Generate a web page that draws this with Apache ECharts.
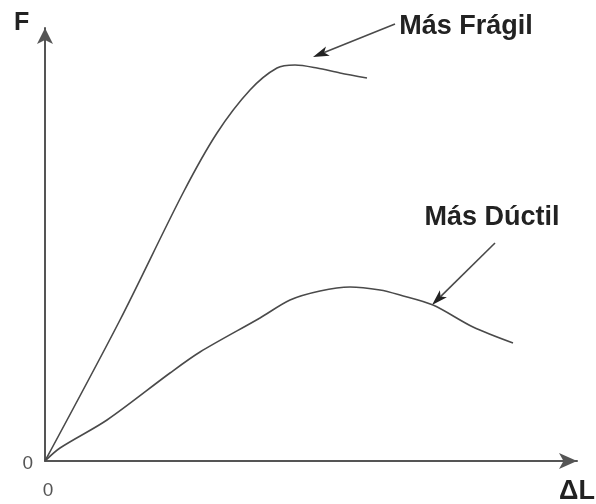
<!DOCTYPE html>
<html>
<head>
<meta charset="utf-8">
<script src="https://cdn.jsdelivr.net/npm/echarts@6/dist/echarts.min.js"></script>
<style>html,body{margin:0;padding:0;background:#fff}#c{width:596px;height:504px}</style>
</head>
<body>
<div id="c"></div>
<script>
// Curve values (ΔL, F in arbitrary units)
const fragilX = [0, 75, 138, 172, 205, 232, 250, 272, 295, 322];
const fragilY = [0, 141, 268, 328, 371, 393, 396, 393, 388, 383];
const ductilX = [0, 15, 62, 125, 155, 215, 245, 275, 305, 335, 355, 388, 428, 468];
const ductilY = [0, 13, 41, 88, 109, 143, 161, 170, 174, 171, 166, 156, 134, 118];
// Annotation arrows: [start, tip] in data units
const fragilArrow = [[350, 437], [268, 404]];
const ductilArrow = [[450, 218], [387, 156]];
const tickLabels = [0];
const labelFragil = 'Más Frágil';
const labelDuctil = 'Más Dúctil';
const nameY = 'F';
const nameX = 'ΔL';

const zip = (xs, ys) => xs.map((x, i) => [x, ys[i]]);
const lineColor = '#4a4a4a';
const axisColor = '#555';
const textFont = 'bold 27px "Liberation Sans"';

const chart = echarts.init(document.getElementById('c'));
chart.setOption({
  animation: false,
  backgroundColor: '#fff',
  grid: {left: 45, right: 19, top: 28, bottom: 43, containLabel: false},
  xAxis: {
    type: 'value', min: 0, max: 532,
    splitLine: {show: false},
    axisTick: {show: false},
    axisLine: {show: true, onZero: false, symbol: ['none', 'arrow'], symbolSize: [12, 18],
      lineStyle: {color: axisColor, width: 2}},
    axisLabel: {customValues: tickLabels, margin: 20, fontSize: 19, color: '#555',
      fontFamily: 'Liberation Sans', padding: [0, 0, 0, 6]}
  },
  yAxis: {
    type: 'value', min: 0, max: 433,
    splitLine: {show: false},
    axisTick: {show: false},
    axisLine: {show: true, onZero: false, symbol: ['none', 'arrow'], symbolSize: [12, 16],
      lineStyle: {color: axisColor, width: 2}},
    axisLabel: {customValues: tickLabels, margin: 12, fontSize: 19, color: '#555',
      fontFamily: 'Liberation Sans', verticalAlign: 'top', lineHeight: 6}
  },
  series: [
    {
      type: 'line', name: labelFragil, data: zip(fragilX, fragilY),
      smooth: 0.3, showSymbol: false, symbol: 'none', clip: false,
      lineStyle: {color: lineColor, width: 1.6}
    },
    {
      type: 'line', name: labelDuctil, data: zip(ductilX, ductilY),
      smooth: 0.3, showSymbol: false, symbol: 'none', clip: false,
      lineStyle: {color: lineColor, width: 1.6}
    }
  ]
});

// Annotation arrows drawn from data coordinates through the chart's own scales
function arrowGraphics(a) {
  const p0 = chart.convertToPixel({gridIndex: 0}, a[0]);
  const p1 = chart.convertToPixel({gridIndex: 0}, a[1]);
  const dx = p1[0] - p0[0], dy = p1[1] - p0[1];
  const len = Math.hypot(dx, dy);
  const ux = dx / len, uy = dy / len;
  const px = -uy, py = ux;
  const hl = 16, hw = 5, notch = 4;
  const bx = p1[0] - ux * hl, by = p1[1] - uy * hl;
  const nx = p1[0] - ux * (hl - notch), ny = p1[1] - uy * (hl - notch);
  return [
    {type: 'line', shape: {x1: p0[0], y1: p0[1], x2: nx, y2: ny},
      style: {stroke: lineColor, lineWidth: 1.6}},
    {type: 'polygon', shape: {points: [[p1[0], p1[1]], [bx + px * hw, by + py * hw], [nx, ny], [bx - px * hw, by - py * hw]]},
      style: {fill: '#222'}}
  ];
}

chart.setOption({
  graphic: [
    ...arrowGraphics(fragilArrow),
    ...arrowGraphics(ductilArrow),
    {type: 'text', left: 14, top: 11, style: {text: nameY, font: 'bold 25px "Liberation Sans"', fill: '#222'}},
    {type: 'text', right: 1, top: 478, style: {text: nameX, font: textFont, fill: '#222'}},
    {type: 'text', x: 466, y: 27, style: {text: labelFragil, font: textFont, fill: '#222', align: 'center', verticalAlign: 'middle'}},
    {type: 'text', x: 492, y: 218, style: {text: labelDuctil, font: textFont, fill: '#222', align: 'center', verticalAlign: 'middle'}}
  ]
});
</script>
</body>
</html>
